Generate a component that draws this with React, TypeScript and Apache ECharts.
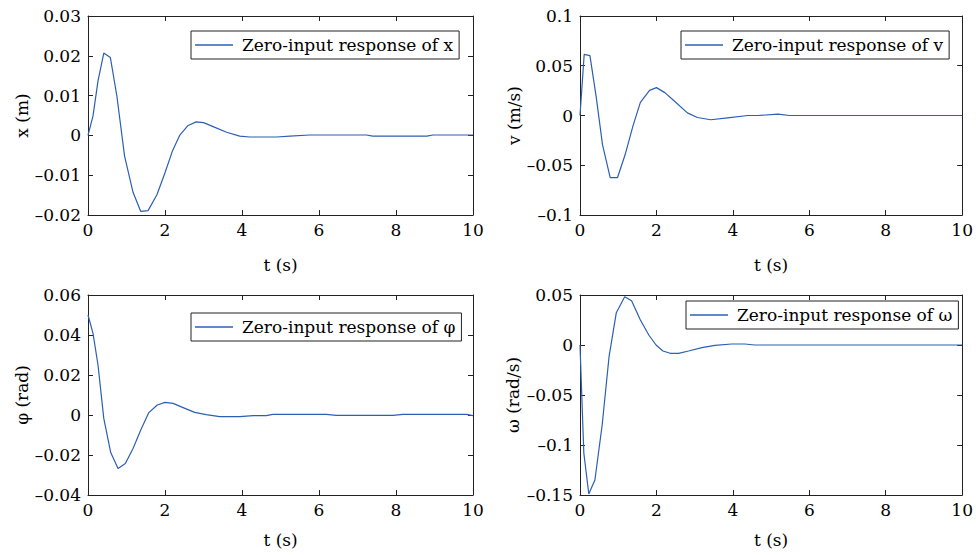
import React, { useEffect, useRef } from "react";
import * as echarts from "echarts";

// ---- Data ----
const xT = [0, 0.13, 0.26, 0.41, 0.58, 0.75, 0.95, 1.17, 1.37, 1.56, 1.79, 2.0, 2.19, 2.38, 2.6, 2.81, 3.0, 3.25, 3.6, 3.94, 4.2, 4.9, 5.24, 5.76, 7.23, 7.4, 8.8, 8.96, 10];
const xV = [0, 0.0049, 0.0137, 0.0207, 0.0196, 0.0099, -0.0052, -0.0143, -0.0191, -0.0189, -0.0149, -0.0094, -0.004, 0, 0.0025, 0.0034, 0.0032, 0.0022, 0.0008, -0.0002, -0.0004, -0.0004, -0.0002, 0.0001, 0.0001, -0.0002, -0.0002, 0.0001, 0.0001];

const vT = [0, 0.11, 0.26, 0.42, 0.59, 0.79, 0.98, 1.18, 1.39, 1.58, 1.82, 2.0, 2.22, 2.46, 2.81, 3.07, 3.42, 3.86, 4.39, 4.65, 5.18, 5.48, 10];
const vV = [0, 0.0615, 0.0602, 0.0197, -0.0296, -0.0625, -0.0625, -0.0395, -0.0099, 0.0132, 0.0253, 0.028, 0.023, 0.0148, 0.0026, -0.002, -0.0043, -0.0023, 0, 0, 0.0013, 0, 0];

const phiT = [0, 0.13, 0.26, 0.41, 0.59, 0.78, 0.97, 1.17, 1.37, 1.58, 1.8, 2.0, 2.21, 2.47, 2.77, 3.07, 3.42, 3.94, 4.29, 4.63, 4.8, 6.19, 6.45, 7.92, 8.18, 9.83, 10];
const phiV = [0.05, 0.0408, 0.025, -0.0017, -0.0188, -0.0267, -0.0242, -0.0167, -0.0075, 0.0012, 0.005, 0.0063, 0.0058, 0.0037, 0.0013, 0.0002, -0.0008, -0.0008, -0.0003, -0.0003, 0.0003, 0.0003, -0.0002, -0.0002, 0.0003, 0.0003, -0.0003];

const wT = [0, 0.1, 0.23, 0.39, 0.58, 0.76, 0.95, 1.17, 1.35, 1.58, 1.8, 1.99, 2.17, 2.36, 2.58, 2.84, 3.19, 3.53, 3.97, 4.31, 4.57, 10];
const wV = [0, -0.108, -0.149, -0.135, -0.08, -0.0117, 0.0323, 0.0483, 0.0443, 0.025, 0.01, 0, -0.006, -0.0083, -0.0083, -0.006, -0.0027, -0.0003, 0.001, 0.001, 0, 0];

const seriesNames = [
  "Zero-input response of x",
  "Zero-input response of v",
  "Zero-input response of φ",
  "Zero-input response of ω",
];
const yNames = ["x (m)", "v (m/s)", "φ (rad)", "ω (rad/s)"];
const xName = "t (s)";
const yMins = [-0.02, -0.1, -0.04, -0.15];
const yMaxs = [0.03, 0.1, 0.06, 0.05];
const yIntervals = [0.01, 0.05, 0.02, 0.05];
const xMin = 0;
const xMax = 10;
const xInterval = 2;

const FONT = '"DejaVu Serif", serif';
const INK = "#222";
const LINE = "#2b5fb4";

const zip = (a: number[], b: number[]) => a.map((t, i) => [t, b[i]]);
const fmt = (v: number) => String(parseFloat(v.toFixed(4))).replace("-", "–");

export default function App() {
  const ref = useRef<HTMLDivElement>(null);
  useEffect(() => {
    if (!ref.current) return;
    const chart = echarts.init(ref.current, undefined, { renderer: "svg" });
    const grids = [
      { left: 88, top: 16, width: 385, height: 199 },
      { left: 580, top: 16, width: 385, height: 199 },
      { left: 88, top: 295, width: 385, height: 200 },
      { left: 580, top: 295, width: 385, height: 200 },
    ];
    const yGaps = [54, 58, 57, 59];
    const xGaps = [41, 41, 36, 36];
    const legendPos = [
      { left: 191, top: 31 },
      { left: 681, top: 31 },
      { left: 191, top: 313 },
      { left: 686, top: 301 },
    ];
    const datas = [zip(xT, xV), zip(vT, vV), zip(phiT, phiV), zip(wT, wV)];

    const xAxes: any[] = [];
    const yAxes: any[] = [];
    const series: any[] = [];
    const legends: any[] = [];
    for (let i = 0; i < 4; i++) {
      const common = {
        gridIndex: i,
        axisLine: { show: true, onZero: false, lineStyle: { color: INK, width: 1 } },
        axisTick: { show: true, inside: true, length: 5, lineStyle: { color: INK } },
        splitLine: { show: false },
      };
      xAxes.push({
        ...common,
        type: "value",
        position: "bottom",
        min: xMin,
        max: xMax,
        interval: xInterval,
        name: xName,
        nameLocation: "middle",
        nameGap: xGaps[i],
        nameTextStyle: { fontFamily: FONT, fontSize: 17, color: "#000" },
        axisLabel: { margin: 6, fontFamily: FONT, fontSize: 17, color: "#000" },
      });
      xAxes.push({
        ...common,
        type: "value",
        position: "top",
        min: xMin,
        max: xMax,
        interval: xInterval,
        axisLabel: { show: false },
      });
      yAxes.push({
        ...common,
        type: "value",
        position: "left",
        min: yMins[i],
        max: yMaxs[i],
        interval: yIntervals[i],
        name: yNames[i],
        nameLocation: "middle",
        nameGap: yGaps[i],
        nameTextStyle: { fontFamily: FONT, fontSize: 17, color: "#000" },
        axisLabel: { margin: 7, fontFamily: FONT, fontSize: 17, color: "#000", formatter: fmt },
      });
      yAxes.push({
        ...common,
        type: "value",
        position: "right",
        min: yMins[i],
        max: yMaxs[i],
        interval: yIntervals[i],
        axisLabel: { show: false },
      });
      series.push({
        name: seriesNames[i],
        type: "line",
        xAxisIndex: i * 2,
        yAxisIndex: i * 2,
        data: datas[i],
        symbol: "none",
        lineStyle: { color: LINE, width: 1.2 },
        itemStyle: { color: LINE },
      });
      legends.push({
        data: [seriesNames[i]],
        left: legendPos[i].left,
        top: legendPos[i].top,
        orient: "horizontal",
        backgroundColor: "#fff",
        borderColor: INK,
        borderWidth: 1,
        borderRadius: 0,
        padding: [5, 6, 5, 4],
        icon: "rect",
        itemWidth: 38,
        itemHeight: 1.5,
        itemStyle: { color: LINE },
        selectedMode: false,
        textStyle: { fontFamily: FONT, fontSize: 17, color: "#000", lineHeight: 18, padding: [0, 0, 0, 4] },
      });
    }

    chart.setOption({
      animation: false,
      backgroundColor: "#fff",
      grid: grids,
      xAxis: xAxes,
      yAxis: yAxes,
      series,
      legend: legends,
    });
    return () => chart.dispose();
  }, []);
  return <div ref={ref} style={{ width: 976, height: 555, position: "absolute", left: 0, top: 0 }} />;
}
